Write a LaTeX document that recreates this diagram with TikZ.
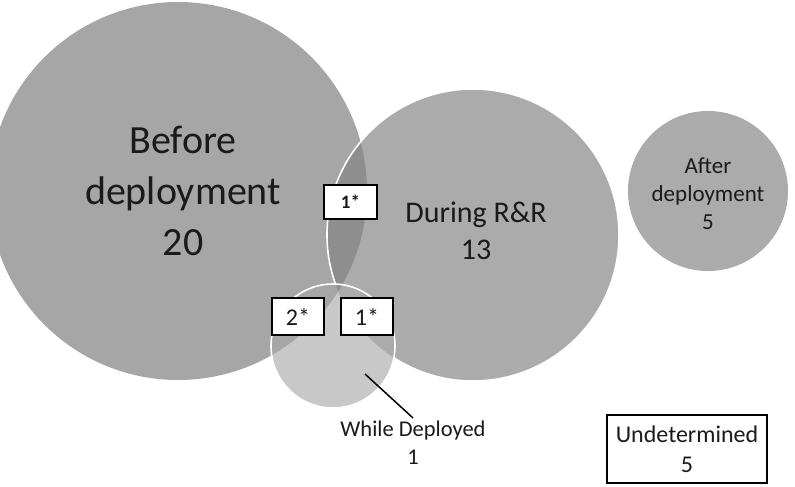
\documentclass[tikz,border=0pt]{standalone}
\usepackage{fontspec}
\setmainfont{Carlito}
\definecolor{bigc}{HTML}{A6A6A6}
\definecolor{rrc}{HTML}{ABABAB}
\definecolor{lensc}{HTML}{8E8E8E}
\definecolor{afterc}{HTML}{ABABAB}
\definecolor{wdc}{HTML}{C8C8C8}
\definecolor{txt}{HTML}{1A1A1A}
\begin{document}
\begin{tikzpicture}[x=1pt,y=-1pt,
  lbl/.style={align=center, inner sep=0pt, text=txt},
  starbox/.style={draw=black, line width=1.3pt, fill=white, minimum width=52pt, minimum height=37pt, inner sep=0pt, text=txt},
  ring/.style={draw=white, line width=1.6pt}]
\useasboundingbox (0,0) rectangle (795,487);
\clip (0,0) rectangle (795,487);
% Before deployment
\fill[bigc] (178,191) circle[radius=189];
% During R&R
\fill[rrc] (473,235) circle[radius=146];
\begin{scope}
  \clip (178,191) circle[radius=189];
  \fill[lensc] (473,235) circle[radius=146];
\end{scope}
\path[ring] (473,235) circle[radius=146];
% After deployment
\fill[afterc] (708,191) circle[radius=80];
% While deployed
\fill[wdc] (333,346) circle[radius=62];
\begin{scope}
  \clip (333,346) circle[radius=62];
  \fill[bigc] (178,191) circle[radius=189];
  \fill[rrc] (473,235) circle[radius=146];
  \clip (178,191) circle[radius=189];
  \fill[lensc] (473,235) circle[radius=146];
\end{scope}
\path[ring] (333,346) circle[radius=62];
% labels
\node[lbl, font=\fontsize{40}{51}\selectfont] (before) at (183,191) {Before\\deployment\\20};
\node[lbl, font=\fontsize{30}{37}\selectfont] (during) at (476,231) {During R\&R\\13};
\node[lbl, font=\fontsize{23}{28}\selectfont] (after) at (708,194) {After\\deployment\\5};
\node[draw=black, line width=2pt, minimum width=160pt, minimum height=68pt, align=center, inner sep=0pt, text=txt, font=\fontsize{24}{30}\selectfont] (und) at (687,449) {Undetermined\\5};
\node[lbl, inner sep=3pt, font=\fontsize{22.5}{28}\selectfont] (wd) at (413,443) {While Deployed\\1};
\coordinate (ptr) at (365,374);
\draw[line width=1.5pt, black] (ptr) -- (wd.north);
% star boxes
\node[starbox, minimum width=53pt, minimum height=34pt, font=\bfseries\fontsize{19}{19}\selectfont] (s1) at (350.5,202) {1*};
\node[starbox, font=\fontsize{24}{24}\selectfont] (s2) at (298,316.5) {2*};
\node[starbox, font=\fontsize{24}{24}\selectfont] (s3) at (367,316.5) {1*};
\end{tikzpicture}
\end{document}
